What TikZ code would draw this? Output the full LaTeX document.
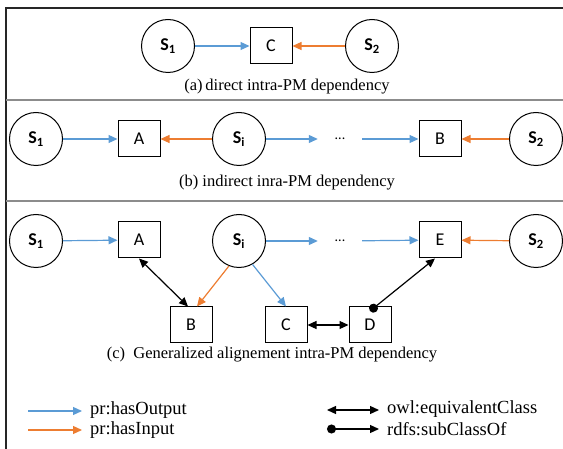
\documentclass[tikz,border=0pt]{standalone}
\usepackage{fontspec}
\setmainfont{Liberation Serif}
\newfontfamily\labelfont{Carlito}
\usetikzlibrary{arrows.meta}

\definecolor{outblue}{RGB}{91,155,213}
\definecolor{inorange}{RGB}{237,125,49}

\tikzset{
  proc/.style={circle,draw,line width=1pt,minimum size=53pt,inner sep=0pt,
    font=\labelfont\fontsize{18}{18}\selectfont\bfseries},
  cls/.style={rectangle,draw,line width=1pt,minimum width=42pt,minimum height=36pt,
    inner sep=0pt,font=\labelfont\fontsize{18}{18}\selectfont},
  gap/.style={minimum width=44pt,inner sep=0pt,font=\labelfont\fontsize{14}{14}\selectfont},
  caption/.style={font=\fontsize{16.5}{17}\selectfont,inner sep=0pt},
  legend/.style={font=\fontsize{18.5}{19}\selectfont,inner sep=0pt,anchor=west},
  output/.style={draw=outblue,line width=1.2pt,-{Triangle[length=9pt,width=8pt]}},
  input/.style={draw=inorange,line width=1.2pt,-{Triangle[length=9pt,width=8pt]}},
  equiv/.style={line width=1.2pt,{Triangle[length=9pt,width=8pt]}-{Triangle[length=9pt,width=8pt]}},
  subcls/.style={line width=1.2pt,{Circle[length=9pt]}-{Triangle[length=9pt,width=8pt]}}
}

\begin{document}
\begin{tikzpicture}[x=1pt,y=-1pt]
\useasboundingbox (0,0) rectangle (563,449);

% frame and panel dividers
\draw[line width=1.2pt,black!85] (6,449) -- (6,8) -- (563,8);
\draw[line width=2pt,black!45] (6,100) -- (563,100);
\draw[line width=2pt,black!45] (6,201) -- (563,201);

% (a) direct
\node[proc] (a-s1) at (168,46) {S\textsubscript{1}};
\node[cls]  (a-c)  at (271,46) {C};
\node[proc] (a-s2) at (372,46) {S\textsubscript{2}};
\draw[output] (a-s1) -- (a-c);
\draw[input]  (a-s2) -- (a-c);
\node[caption] (a-cap) at (287,87) {(a)\,direct intra-PM dependency};

% (b) indirect
\node[proc] (b-s1) at (36,139)  {S\textsubscript{1}};
\node[cls]  (b-a)  at (139,139) {A};
\node[proc] (b-si) at (239,139) {S\textsubscript{i}};
\node[gap]  (b-gap) at (340,139) {...};
\node[cls]  (b-b)  at (440,139) {B};
\node[proc] (b-s2) at (536,139) {S\textsubscript{2}};
\draw[output] (b-s1) -- (b-a);
\draw[input]  (b-si) -- (b-a);
\draw[output] (b-si) -- (b-gap);
\draw[output] (b-gap) -- (b-b);
\draw[input]  (b-s2) -- (b-b);
\node[caption] (b-cap) at (287,183) {(b) indirect inra-PM dependency};

% (c) generalized alignement
\node[proc] (c-s1) at (36,241)  {S\textsubscript{1}};
\node[cls]  (c-a)  at (139,240) {A};
\node[proc] (c-si) at (239,241) {S\textsubscript{i}};
\node[gap]  (c-gap) at (340,241) {...};
\node[cls]  (c-e)  at (440,240) {E};
\node[proc] (c-s2) at (536,241) {S\textsubscript{2}};
\node[cls]  (c-b)  at (191,325) {B};
\node[cls]  (c-c)  at (286,325) {C};
\node[cls]  (c-d)  at (370,325) {D};
\draw[output] (c-s1) -- (c-a);
\draw[output] (c-si) -- (c-gap);
\draw[output] (c-gap) -- (c-e);
\draw[input]  (c-s2) -- (c-e);
\draw[equiv]  (c-a.south) -- ([xshift=-3pt]c-b.north);
\draw[input]  (c-si.-112) -- ([xshift=6pt]c-b.north);
\draw[output] (c-si.-60) -- (c-c.north);
\draw[equiv]  (c-c) -- (c-d);
\draw[subcls] ([yshift=-4.5pt]c-d.north) -- ([xshift=-5pt]c-e.south);
\node[caption] (c-cap) at (272,355) {(c)\enspace Generalized alignement intra-PM dependency};

% legend
\coordinate (l-out-a) at (28,411);  \coordinate (l-out-b) at (82,411);
\coordinate (l-in-a)  at (28,430);  \coordinate (l-in-b)  at (82,430);
\coordinate (l-eq-a)  at (327,410); \coordinate (l-eq-b)  at (379,410);
\coordinate (l-sub-a) at (327,429); \coordinate (l-sub-b) at (379,429);
\draw[output] (l-out-a) -- (l-out-b);
\draw[input]  (l-in-a) -- (l-in-b);
\draw[equiv]  (l-eq-a) -- (l-eq-b);
\draw[subcls] (l-sub-a) -- (l-sub-b);
\node[legend] (l-out) at (90,410)  {pr:hasOutput};
\node[legend] (l-in)  at (90,430)  {pr:hasInput};
\node[legend] (l-eq)  at (387,409) {owl:equivalentClass};
\node[legend] (l-sub) at (387,429) {rdfs:subClassOf};

\end{tikzpicture}
\end{document}
